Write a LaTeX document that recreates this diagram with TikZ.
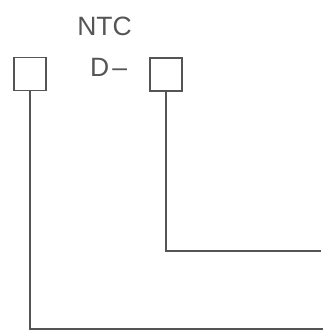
\documentclass[tikz,border=0pt]{standalone}
\usepackage{fontspec}
\setmainfont{Liberation Sans}
\definecolor{ink}{HTML}{555555}
\begin{document}
\begin{tikzpicture}[x=1pt,y=1pt,
  term/.style={draw=ink,line width=1.6pt,minimum width=32pt,minimum height=33pt,inner sep=0pt},
  wire/.style={draw=ink,line width=1.6pt},
  lbl/.style={text=ink,font=\fontsize{26.5}{26.5}\selectfont,inner sep=0pt}]
\useasboundingbox (0,0) rectangle (323,-332);
\node[term] (b1) at (30,-74) {};
\node[term] (b2) at (166,-74.5) {};
\node[lbl,anchor=base] (ntc) at (104.5,-35.7) {NTC};
\node[lbl,anchor=base west] (d) at (90,-76.7) {D\hspace{3pt}–};
\coordinate (e2) at (321,-251);
\coordinate (e1) at (323,-329);
\draw[wire] (b1.south) |- (e1);
\draw[wire] (b2.south) |- (e2);
\end{tikzpicture}
\end{document}
